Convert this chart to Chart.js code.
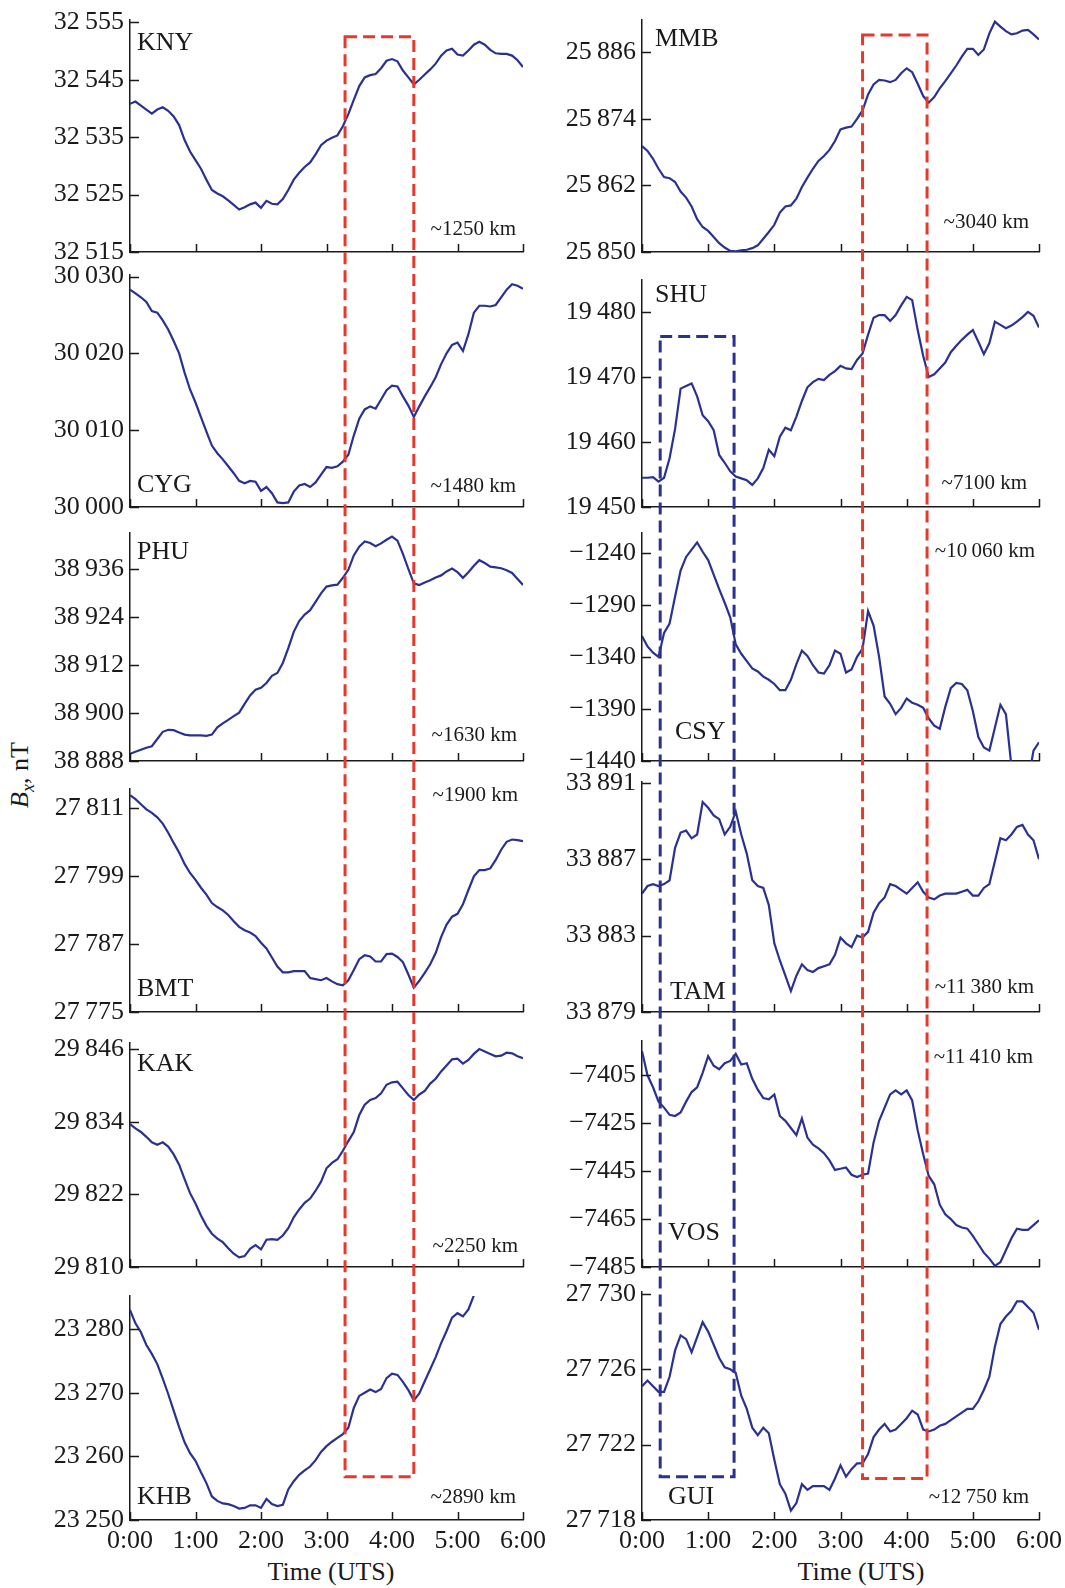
<!DOCTYPE html>
<html>
<head>
<meta charset="utf-8">
<title>Bx variations at twelve stations, 0:00–6:00 UTS</title>
<script src="https://cdn.jsdelivr.net/npm/chart.js@4.4.1/dist/chart.umd.min.js"></script>
<style>
  html, body { margin: 0; padding: 0; background: #fff; }
  #fig { position: relative; width: 1065px; height: 1588px; overflow: hidden;
         font-family: "Liberation Serif", "Times New Roman", serif; color: #1a1a1a; }
  #fig canvas { position: absolute; }
  .lbl { position: absolute; font-size: 26px; white-space: nowrap; line-height: 1; }
</style>
</head>
<body>
<div id="fig">
  <div class="lbl" style="left:22px;top:775px;transform:translate(-50%,-50%) rotate(-90deg);"><i>B</i><sub style="font-size:18px;"><i>x</i></sub>, nT</div>
  <div class="lbl" style="left:331px;top:1572px;transform:translate(-50%,-50%);">Time (UTS)</div>
  <div class="lbl" style="left:861px;top:1572px;transform:translate(-50%,-50%);">Time (UTS)</div>
</div>
<script>
// ---- time grid (minutes after 0:00 UTS) ----
const timeMin = [0,5,10,15,20,25,30,35,40,45,50,55,60,65,70,75,80,85,90,95,100,105,110,115,120,125,130,135,140,145,150,155,160,165,170,175,180,185,190,195,200,205,210,215,220,225,230,235,240,245,250,255,260,265,270,275,280,285,290,295,300,305,310,315,320,325,330,335,340,345,350,355,360];
const timeTicks = [0, 60, 120, 180, 240, 300, 360];
const timeTickLabels = ['0:00', '1:00', '2:00', '3:00', '4:00', '5:00', '6:00'];

// ---- Bx, nT (5-min samples) ----
const knyBx = [32540.8,32541.2,32540.5,32539.8,32539.1,32539.8,32540.2,32539.6,32538.6,32537.1,32534.5,32532.5,32531,32529.5,32527.6,32525.8,32525.2,32524.7,32524,32523.2,32522.4,32522.8,32523.3,32523.6,32522.7,32523.9,32523.4,32523.3,32524.2,32525.8,32527.6,32528.8,32529.8,32530.6,32532,32533.6,32534.4,32534.9,32535.3,32536.9,32539,32541.5,32543.9,32545.4,32545.8,32546,32547,32548.3,32548.6,32548.2,32546.6,32545.4,32544.2,32545,32545.9,32546.8,32547.8,32549.2,32550.1,32550.4,32549.4,32549.2,32550.1,32551.1,32551.6,32551.1,32550.2,32549.6,32549.5,32549.5,32549.2,32548.4,32547.2];
const cygBx = [30028.3,30027.8,30027.3,30026.7,30025.5,30025.3,30024.3,30023.1,30021.6,30020,30017.5,30015.3,30013.6,30011.7,30009.8,30008,30007,30006.2,30005.3,30004.4,30003.4,30003.1,30003.4,30003.3,30002.1,30002.6,30001.8,30000.6,30000.5,30000.6,30002,30002.8,30003,30002.6,30003.2,30004.2,30005.2,30005.1,30005.3,30005.9,30006.8,30009.3,30011.5,30012.7,30013.1,30012.8,30014,30015.2,30015.8,30015.7,30014.4,30013.2,30011.7,30013.1,30014.4,30015.6,30016.9,30018.6,30020,30021.1,30021.4,30020.3,30022.5,30025.3,30026.2,30026.2,30026.1,30026.3,30027.3,30028.3,30029,30028.8,30028.4];
const phuBx = [38889.8,38890.3,38890.8,38891.3,38891.7,38893.5,38895.3,38895.8,38895.7,38895.1,38894.6,38894.4,38894.4,38894.4,38894.3,38894.6,38896.4,38897.4,38898.3,38899.2,38900.1,38902.3,38904.4,38905.8,38906.3,38907.5,38909.3,38910,38912.5,38916.2,38920.3,38923,38924.6,38925.7,38927.8,38929.9,38931.6,38931.9,38932.1,38933.8,38935.8,38939.4,38941.6,38942.9,38942.5,38941.7,38942.4,38943.3,38944.1,38943.1,38939.8,38936,38932.4,38932,38932.6,38933.2,38933.9,38934.4,38935.4,38936.1,38935.2,38933.8,38935.2,38936.8,38938.2,38937.5,38936.6,38936.4,38936.2,38935.7,38935,38933.5,38932];
const bmtBx = [27813.2,27812.5,27811.6,27810.7,27810.1,27809.3,27808.2,27806.6,27804.8,27803.1,27801.1,27799.5,27798.3,27796.9,27795.7,27794.2,27793.5,27792.9,27792.1,27791,27790,27789.4,27789,27788.4,27787.2,27786.2,27784.6,27783,27782,27782,27782.2,27782.2,27782.2,27781,27780.8,27780.6,27781,27780.4,27779.9,27779.7,27780.6,27782.4,27784.3,27785,27784.8,27783.9,27783.9,27785.2,27785.3,27784.7,27783.8,27781.6,27779.3,27780.5,27781.9,27783.4,27785.4,27788.2,27790.4,27791.8,27792.3,27794,27796.5,27798.9,27800,27800,27800.3,27801.8,27803.6,27805,27805.4,27805.3,27805.1];
const kakBx = [29833.6,29832.9,29832.3,29831.5,29830.6,29830.2,29830.6,29829.9,29828.6,29826.9,29824.5,29822.2,29820.5,29818.5,29816.8,29815.5,29814.7,29814.1,29813.1,29812.2,29811.6,29811.8,29813,29813.6,29812.9,29814.5,29814.6,29814.5,29815.2,29816.4,29818.2,29819.5,29820.6,29821.3,29822.6,29824.1,29826.3,29827.2,29827.8,29829.2,29830.8,29832.3,29835.1,29836.8,29837.6,29837.9,29838.7,29840.1,29840.5,29840.6,29839.5,29838.4,29837.6,29838.5,29839.1,29840.3,29841.1,29842.3,29843.3,29844.3,29844.4,29843.6,29844.2,29845.2,29846,29845.6,29845.2,29844.8,29844.9,29845.4,29845.3,29844.8,29844.5];
const khbBx = [23283,23280.9,23279.5,23277.5,23276.1,23274.5,23272.2,23269.8,23267.2,23264.6,23262.2,23260.5,23259.3,23257.5,23255.8,23253.7,23253,23252.6,23252.5,23252.2,23251.8,23251.9,23252.3,23252.3,23251.9,23253.3,23252.5,23252.2,23252.4,23254.8,23256.1,23257.1,23257.8,23258.4,23259.4,23260.7,23261.6,23262.3,23262.9,23263.5,23264.5,23267.6,23269.5,23270,23270.5,23270.1,23270.6,23272.3,23273,23272.8,23271.7,23270.4,23268.8,23269.9,23271.8,23273.7,23275.6,23277.8,23279.7,23281.8,23282.5,23282,23283.1,23285.3,null,null,null,null,null,null,null,null,null];
const mmbBx = [25869.1,25868.2,25866.8,25865,25863.5,25863.3,25862.6,25860.9,25859.8,25858.2,25855.9,25854.5,25853.8,25852.7,25851.6,25850.8,25850.2,25850.1,25850.3,25850.4,25850.7,25851.2,25852.4,25853.6,25854.9,25857.1,25858.2,25858.4,25859.6,25861.7,25863.4,25865,25866.4,25867.3,25868.4,25870,25872.1,25872.4,25872.6,25874,25875.5,25878.4,25880.2,25881,25880.9,25880.6,25881,25882.2,25883.1,25882.4,25880.3,25878.1,25876.9,25877.9,25879.5,25880.8,25882.2,25883.6,25885.2,25886.6,25886.6,25885.5,25886.5,25889.4,25891.5,25890.6,25889.8,25889.2,25889.4,25889.9,25890,25889.2,25888.3];
const shuBx = [19454.5,19454.5,19454.6,19453.9,19454.5,19457.5,19462,19468.2,19468.6,19469,19467,19464.1,19463.2,19461.8,19458,19456.8,19455.5,19454.7,19454.4,19454.1,19453.4,19454.4,19456,19458.8,19457.8,19460.8,19462.2,19461.8,19463.9,19466.3,19468.4,19469.2,19469.7,19469.5,19470.3,19470.9,19471.7,19471.3,19471.2,19472.6,19473.6,19476.5,19479.1,19479.5,19479.5,19478.6,19479.5,19481,19482.3,19481.8,19477.2,19473.2,19470,19470.4,19471.3,19472.2,19473.8,19474.8,19475.7,19476.5,19477.2,19475.4,19473.5,19475.2,19478.5,19478,19477.5,19477.9,19478.5,19479.2,19480,19479.4,19477.6];
const csyBx = [-1320,-1330,-1336,-1340,-1317,-1308,-1282,-1257,-1244,-1237,-1230,-1239,-1247,-1261,-1275,-1288,-1302,-1328,-1337,-1344,-1351,-1354,-1359,-1362,-1366,-1372,-1372,-1362,-1347,-1334,-1339,-1348,-1355,-1356,-1348,-1334,-1337,-1355,-1352,-1340,-1332,-1296,-1310,-1340,-1378,-1385,-1395,-1389,-1380,-1384,-1386,-1389,-1399,-1406,-1409,-1388,-1370,-1365,-1366,-1372,-1392,-1417,-1427,-1430,-1408,-1386,-1395,-1445,-1470,-1470,-1460,-1430,-1422];
const tamBx = [33885.2,33885.6,33885.7,33885.6,33885.7,33885.9,33887.6,33888.4,33888.5,33888.1,33888.3,33890,33889.7,33889.3,33889.1,33888.3,33888.7,33889.5,33888.3,33887.3,33885.9,33885.6,33885.5,33884.6,33882.6,33881.7,33880.9,33880.1,33880.9,33881.5,33881.2,33881.1,33881.3,33881.4,33881.5,33882,33882.9,33882.6,33882.4,33883,33882.9,33883.2,33884.2,33884.7,33885,33885.7,33885.6,33885.4,33885.2,33885.5,33885.8,33885.3,33885,33884.9,33885.1,33885.2,33885.2,33885.2,33885.3,33885.4,33885.1,33885.1,33885.5,33885.7,33886.9,33888.1,33888,33888.3,33888.7,33888.8,33888.3,33888,33887];
const vosBx = [-7395,-7405,-7410,-7416,-7418.5,-7421.5,-7422,-7420.5,-7416,-7412,-7410,-7404,-7397,-7401,-7402.5,-7400,-7399,-7396,-7400.5,-7400,-7406.5,-7411,-7414.5,-7415,-7413,-7422,-7424,-7427,-7430,-7423,-7431,-7434,-7435.5,-7437.5,-7440.5,-7444.5,-7444,-7443.5,-7446.5,-7447.5,-7446.5,-7446,-7433,-7424,-7418.5,-7413,-7411.3,-7413,-7411.3,-7415.5,-7428,-7438,-7447,-7450.5,-7459,-7463,-7465,-7467.5,-7468.5,-7469,-7472,-7475.5,-7479,-7481.5,-7484.5,-7483,-7478,-7473,-7469,-7469.5,-7469.5,-7467.5,-7465.5];
const guiBx = [27725.1,27725.4,27725.1,27724.8,27724.8,27725.6,27727,27727.8,27727.6,27726.9,27727.7,27728.5,27728,27727.3,27726.6,27726.1,27726,27725.8,27724.6,27723.9,27722.9,27722.5,27722.9,27722.6,27721.2,27719.9,27719.4,27718.5,27718.9,27719.9,27719.6,27719.8,27719.8,27719.8,27719.6,27720.2,27720.9,27720.3,27720.7,27721,27721,27721.5,27722.4,27722.8,27723.1,27722.7,27722.8,27723.1,27723.4,27723.8,27723.6,27722.8,27722.7,27722.8,27723,27723.1,27723.3,27723.5,27723.7,27723.9,27723.9,27724.3,27724.9,27725.6,27727.2,27728.4,27728.8,27729.1,27729.6,27729.6,27729.3,27729,27728.1];

// ---- y tick values per station ----
const knyTicks = [32515, 32525, 32535, 32545, 32555];
const cygTicks = [30000, 30010, 30020, 30030];
const phuTicks = [38888, 38900, 38912, 38924, 38936];
const bmtTicks = [27775, 27787, 27799, 27811];
const kakTicks = [29810, 29822, 29834, 29846];
const khbTicks = [23250, 23260, 23270, 23280];
const mmbTicks = [25850, 25862, 25874, 25886];
const shuTicks = [19450, 19460, 19470, 19480];
const csyTicks = [-1440, -1390, -1340, -1290, -1240];
const tamTicks = [33879, 33883, 33887, 33891];
const vosTicks = [-7485, -7465, -7445, -7425, -7405];
const guiTicks = [27718, 27722, 27726, 27730];

// ---- highlighted intervals (minutes) and box edges (nT on the end panels) ----
const leftWindowMin = [197, 260];
const rightWindowMin = [200, 258.5];
const earlyWindowMin = [16.5, 83.5];
const knyBoxTop = 32552.5, khbBoxBottom = 23256.8;
const mmbBoxTop = 25889.1, guiBoxBottom = 27720.2;
const shuBoxTop = 19476.2, guiEarlyBottom = 27720.3;

// ---- styling ----
const NAVY = '#2b3190';
const RED = '#e5392e';
const INK = '#1a1a1a';
const FONT = '"Liberation Serif", "Times New Roman", serif';

const columns = {
  left:  { canvasLeft: 0,   width: 560, axisW: 130, padR: 37 },
  right: { canvasLeft: 530, width: 535, axisW: 112, padR: 26 }
};

const panels = [
  { key:'KNY', col:'left',  top:20,   bottom:252,  values:knyBx, min:32515, max:32555.4, ticks:knyTicks, nameX:7,  nameY:23,  dist:'~1250 km',          distX:7,  distY:-23 },
  { key:'CYG', col:'left',  top:275,  bottom:507,  values:cygBx, min:30000, max:30030.2, ticks:cygTicks, nameX:7,  nameY:-22, dist:'~1480 km',          distX:7,  distY:-21 },
  { key:'PHU', col:'left',  top:533,  bottom:761,  values:phuBx, min:38888, max:38945,   ticks:phuTicks, nameX:7,  nameY:19,  dist:'~1630 km',          distX:6,  distY:-26 },
  { key:'BMT', col:'left',  top:789,  bottom:1012, values:bmtBx, min:27775, max:27814.3, ticks:bmtTicks, nameX:7,  nameY:-23, dist:'~1900 km',          distX:5,  distY:6 },
  { key:'KAK', col:'left',  top:1043, bottom:1267, values:kakBx, min:29810, max:29847,   ticks:kakTicks, nameX:7,  nameY:21,  dist:'~2250 km',          distX:5,  distY:-21 },
  { key:'KHB', col:'left',  top:1296, bottom:1520, values:khbBx, min:23250, max:23285.2, ticks:khbTicks, nameX:7,  nameY:-23, dist:'~2890 km',          distX:7,  distY:-23, last:true },
  { key:'MMB', col:'right', top:20,   bottom:252,  values:mmbBx, min:25850, max:25891.8, ticks:mmbTicks, nameX:13, nameY:19,  dist:'~3040 km',          distX:10, distY:-30 },
  { key:'SHU', col:'right', top:280,  bottom:507,  values:shuBx, min:19450, max:19484.9, ticks:shuTicks, nameX:13, nameY:15,  dist:'~7100 km',          distX:12, distY:-24 },
  { key:'CSY', col:'right', top:533,  bottom:761,  values:csyBx, min:-1440, max:-1221,   ticks:csyTicks, nameX:33, nameY:-29, dist:'~10\u2009060 km',  distX:4,  distY:18 },
  { key:'TAM', col:'right', top:782,  bottom:1012, values:tamBx, min:33879, max:33891.05,ticks:tamTicks, nameX:28, nameY:-20, dist:'~11\u2009380 km',  distX:5,  distY:-25 },
  { key:'VOS', col:'right', top:1041, bottom:1267, values:vosBx, min:-7485, max:-7390.7, ticks:vosTicks, nameX:26, nameY:-34, dist:'~11\u2009410 km',  distX:6,  distY:16 },
  { key:'GUI', col:'right', top:1292, bottom:1520, values:guiBx, min:27718, max:27730.1, ticks:guiTicks, nameX:26, nameY:-23, dist:'~12\u2009750 km',  distX:10, distY:-23, last:true }
];

function fmtNT(v) {
  const r = Math.round(v);
  if (r < 0) return '\u2212' + Math.abs(r);
  const s = String(r);
  return s.length > 4 ? s.slice(0, -3) + '\u2009' + s.slice(-3) : s;
}

// short tick marks pointing into the plot area
const inwardTicks = {
  id: 'inwardTicks',
  afterDatasetsDraw(chart) {
    const { ctx, chartArea: a, scales: { x, y } } = chart;
    ctx.save();
    ctx.strokeStyle = INK;
    ctx.lineWidth = 1.5;
    ctx.beginPath();
    y.ticks.forEach(t => {
      const py = Math.round(y.getPixelForValue(t.value)) + 0.5;
      ctx.moveTo(a.left, py); ctx.lineTo(a.left + 9, py);
    });
    x.ticks.forEach(t => {
      const px = Math.round(x.getPixelForValue(t.value)) + 0.5;
      ctx.moveTo(px, a.bottom); ctx.lineTo(px, a.bottom - 8);
    });
    ctx.stroke();
    ctx.restore();
  }
};

// station code and distance caption inside each panel
const panelText = {
  id: 'panelText',
  afterDraw(chart, args, o) {
    const { ctx, chartArea: a } = chart;
    ctx.save();
    ctx.fillStyle = INK;
    ctx.textBaseline = 'middle';
    ctx.font = '26px ' + FONT;
    ctx.textAlign = 'left';
    ctx.fillText(o.name, a.left + o.nameX, o.nameY >= 0 ? a.top + o.nameY : a.bottom + o.nameY);
    ctx.font = '21px ' + FONT;
    ctx.textAlign = 'right';
    ctx.fillText(o.dist, a.right - o.distX, o.distY >= 0 ? a.top + o.distY : a.bottom + o.distY);
    ctx.restore();
  }
};

const fig = document.getElementById('fig');
const charts = {};
const PAD_TOP = 20;

panels.forEach(p => {
  const col = columns[p.col];
  const xH = p.last ? 42 : 4;
  const padB = p.last ? 0 : 16;
  const h = PAD_TOP + (p.bottom - p.top) + xH + padB;
  const cv = document.createElement('canvas');
  cv.width = col.width; cv.height = h;
  cv.style.left = col.canvasLeft + 'px';
  cv.style.top = (p.top - PAD_TOP) + 'px';
  cv.style.width = col.width + 'px';
  cv.style.height = h + 'px';
  fig.appendChild(cv);

  const chart = new Chart(cv, {
    type: 'line',
    data: {
      datasets: [{
        data: timeMin.map((t, i) => ({ x: t, y: p.values[i] })),
        borderColor: NAVY, borderWidth: 2.2, pointRadius: 0, tension: 0, spanGaps: false
      }]
    },
    options: {
      responsive: false, animation: false, events: [],
      layout: { padding: { left: 0, top: PAD_TOP, right: col.padR, bottom: padB } },
      plugins: {
        legend: { display: false }, tooltip: { enabled: false },
        panelText: { name: p.key, nameX: p.nameX, nameY: p.nameY, dist: p.dist, distX: p.distX, distY: p.distY }
      },
      scales: {
        x: {
          type: 'linear', min: 0, max: 360, bounds: 'data',
          grid: { display: false, drawTicks: false },
          border: { display: true, color: INK, width: 1.5 },
          afterBuildTicks: s => { s.ticks = timeTicks.map(v => ({ value: v })); },
          ticks: {
            display: !!p.last, autoSkip: false, maxRotation: 0, padding: 6, color: INK,
            font: { family: FONT, size: 26 },
            callback: v => timeTickLabels[timeTicks.indexOf(v)]
          },
          afterFit: s => { s.height = xH; s.paddingLeft = 0; s.paddingRight = 0; }
        },
        y: {
          type: 'linear', min: p.min, max: p.max, bounds: 'data',
          grid: { display: false, drawTicks: false },
          border: { display: true, color: INK, width: 1.5 },
          afterBuildTicks: s => { s.ticks = p.ticks.map(v => ({ value: v })); },
          ticks: { autoSkip: false, padding: 6, color: INK, font: { family: FONT, size: 26 }, callback: v => fmtNT(v) },
          afterFit: s => { s.width = col.axisW; s.paddingTop = 0; s.paddingBottom = 0; }
        }
      }
    },
    plugins: [inwardTicks, panelText]
  });
  charts[p.key] = { chart, ox: col.canvasLeft, oy: p.top - PAD_TOP };
});

// dashed boxes spanning the stacked panels
const overlay = document.createElement('canvas');
overlay.width = 1065; overlay.height = 1588;
overlay.style.left = '0px'; overlay.style.top = '0px';
overlay.style.pointerEvents = 'none';
fig.appendChild(overlay);
const octx = overlay.getContext('2d');

function px(key, minutes) { const c = charts[key]; return c.ox + c.chart.scales.x.getPixelForValue(minutes); }
function py(key, value) { const c = charts[key]; return c.oy + c.chart.scales.y.getPixelForValue(value); }

function dashedBox(xKey, win, topKey, topVal, botKey, botVal, color) {
  const x0 = px(xKey, win[0]), x1 = px(xKey, win[1]);
  const y0 = py(topKey, topVal), y1 = py(botKey, botVal);
  octx.save();
  octx.strokeStyle = color;
  octx.lineWidth = 3;
  octx.setLineDash([12, 6]);
  octx.strokeRect(x0, y0, x1 - x0, y1 - y0);
  octx.restore();
}

dashedBox('KNY', leftWindowMin, 'KNY', knyBoxTop, 'KHB', khbBoxBottom, RED);
dashedBox('MMB', rightWindowMin, 'MMB', mmbBoxTop, 'GUI', guiBoxBottom, RED);
dashedBox('SHU', earlyWindowMin, 'SHU', shuBoxTop, 'GUI', guiEarlyBottom, NAVY);
</script>
</body>
</html>
